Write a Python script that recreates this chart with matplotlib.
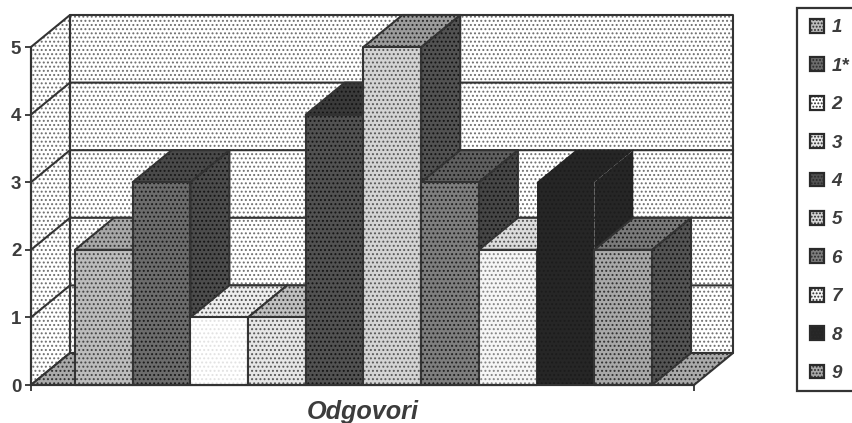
import matplotlib
matplotlib.use("Agg")
import matplotlib.pyplot as plt
from matplotlib.patches import Polygon, Patch, Rectangle

# ---- data ----
series = ["1", "1*", "2", "3", "4", "5", "6", "7", "8", "9"]
values = [2, 3, 1, 1, 4, 5, 3, 2, 3, 2]
y_ticks = [0, 1, 2, 3, 4, 5]
x_label = "Odgovori"

# ---- styles: (fill, dot colour) for front / top / side of each bar ----
front = [("#bcbcbc", "#444444"), ("#6c6c6c", "#1a1a1a"), ("#ffffff", "#e2e2e2"), ("#e6e6e6", "#565656"),
         ("#525252", "#141414"), ("#d4d4d4", "#585858"), ("#7e7e7e", "#202020"), ("#f6f6f6", "#848484"),
         ("#262626", "#1c1c1c"), ("#a8a8a8", "#303030")]
top = [("#a8a8a8", "#343434"), ("#4a4a4a", "#181818"), ("#eeeeee", "#505050"), ("#c0c0c0", "#363636"),
       ("#3a3a3a", "#141414"), ("#9c9c9c", "#262626"), ("#606060", "#181818"), ("#dcdcdc", "#505050"),
       ("#262626", "#1c1c1c"), ("#7a7a7a", "#181818")]
side = [("#808080", "#282828"), ("#4c4c4c", "#141414"), ("#b4b4b4", "#343434"), ("#a4a4a4", "#343434"),
        ("#383838", "#141414"), ("#525252", "#141414"), ("#464646", "#141414"), ("#a4a4a4", "#343434"),
        ("#262626", "#1c1c1c"), ("#545454", "#141414")]
outline = [1.5, 1.5, 1.5, 1.5, 1.5, 1.5, 1.5, 1.5, 0, 1.5]
wall = ("#ffffff", "#6e6e6e")
floor_c = ("#aaaaaa", "#2c2c2c")
line = "#333333"
text_c = "#3c3c3c"

plt.rcParams["font.family"] = ["Liberation Sans", "DejaVu Sans"]
plt.rcParams["hatch.linewidth"] = 0.9

W, H = 853, 423
fig = plt.figure(figsize=(W / 100, H / 100), dpi=100, facecolor="white")
L, R, B, T = 31, 694, 385, 47
ax = fig.add_axes([L / W, 1 - B / H, (R - L) / W, (B - T) / H])
ax.set_ylim(0, 5)
unit = 57.7
ax.set_xlim(-(75 - L) / unit, (R - 75) / unit)
ax.patch.set_visible(False)
dx, dy = 39 / unit, 32 / ((B - T) / 5)
xmin, xmax = ax.get_xlim()
ymax = 5


def face(pts, colors, z, lw=1.5):
    fc, dc = colors
    ax.add_patch(Polygon(pts, closed=True, facecolor=fc, edgecolor=dc, hatch="....",
                         linewidth=0, zorder=z, clip_on=False))
    if lw:
        ax.add_patch(Polygon(pts, closed=True, facecolor="none", edgecolor=line,
                             linewidth=lw, zorder=z + 0.01, clip_on=False, joinstyle="round"))


# walls and floor
face([(xmin + dx, dy), (xmax + dx, dy), (xmax + dx, ymax + dy), (xmin + dx, ymax + dy)], wall, 1)
face([(xmin, 0), (xmin + dx, dy), (xmin + dx, ymax + dy), (xmin, ymax)], wall, 1)
face([(xmin, 0), (xmax, 0), (xmax + dx, dy), (xmin + dx, dy)], floor_c, 1.5)

# grid lines on the walls
for v in y_ticks[1:-1]:
    ax.plot([xmin, xmin + dx, xmax + dx], [v, v + dy, v + dy], color=line, lw=1.5,
            zorder=2, clip_on=False, solid_joinstyle="round")

# bars, left to right so that later ones hide the sides of earlier ones
for i, v in enumerate(values):
    z = 3 + i
    face([(i + 1, 0), (i + 1 + dx, dy), (i + 1 + dx, v + dy), (i + 1, v)], side[i], z, outline[i])
    face([(i, v), (i + 1, v), (i + 1 + dx, v + dy), (i + dx, v + dy)], top[i], z + 0.1, outline[i])
    face([(i, 0), (i + 1, 0), (i + 1, v), (i, v)], front[i], z + 0.2, outline[i])

# axes
for s in ["top", "right"]:
    ax.spines[s].set_visible(False)
for s in ["left", "bottom"]:
    ax.spines[s].set_color(line)
    ax.spines[s].set_linewidth(1.5)
    ax.spines[s].set_zorder(20)
ax.set_yticks(y_ticks)
ax.set_xticks([xmin, xmax])
ax.set_xticklabels([])
ax.tick_params(axis="both", length=4.5, width=1.3, color=line, pad=2.5)
for t in ax.get_yticklabels():
    t.set_fontsize(13.5)
    t.set_fontweight("bold")
    t.set_color(text_c)
ax.set_xlabel(x_label, fontsize=18.2, fontweight="bold", fontstyle="italic", color=text_c, labelpad=4)

# legend
fig.add_artist(Rectangle((797 / W, 1 - 391 / H), 60 / W, 383 / H, transform=fig.transFigure,
                         facecolor="white", edgecolor=line, linewidth=1.6))
handles = [Patch(facecolor=front[i][0], edgecolor="#2a2a2a", hatch=".....", linewidth=1.6, label=s)
           for i, s in enumerate(series)]
leg = fig.legend(handles=handles, loc="upper left", bbox_to_anchor=(810 / W, 1 - 19 / H), frameon=False,
                 prop={"family": "Liberation Sans", "size": 13.5, "weight": "bold", "style": "italic"},
                 handlelength=0.75, handleheight=0.75, handletextpad=0.4,
                 labelspacing=1.12, borderpad=0, borderaxespad=0, labelcolor=text_c)

fig.savefig("out.png", dpi=100, facecolor="white")
